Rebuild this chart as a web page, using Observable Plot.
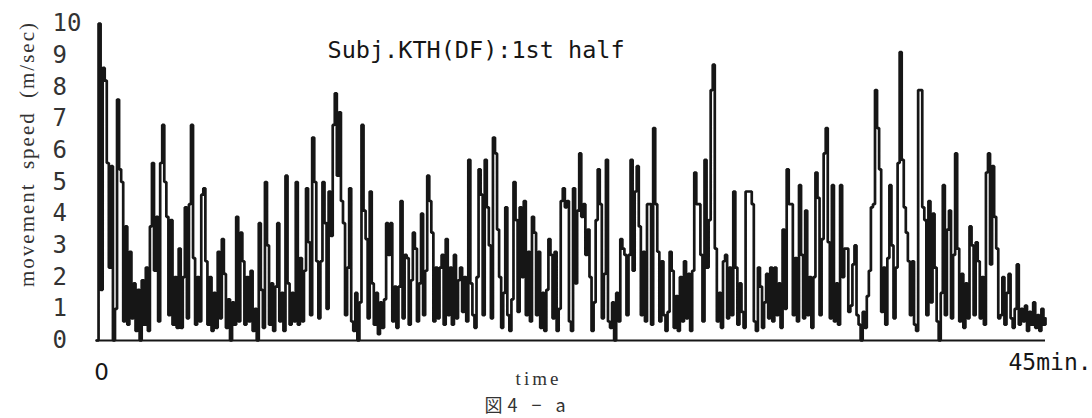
<!DOCTYPE html>
<html><head><meta charset="utf-8">
<script src="https://cdn.jsdelivr.net/npm/d3@7"></script>
<script src="https://cdn.jsdelivr.net/npm/@observablehq/plot@0.6"></script>
<style>body{margin:0;background:#fff}</style>
</head><body><div id="chart"></div>
<script>
// movement speed (m/sec), equally spaced readings over the 45 min half
const speed = [
  0, 10.0, 1.6, 8.6, 8.2, 5.6, 2.3, 5.5, 0, 1.0,
  7.6, 5.4, 5.0, 0.6, 3.6, 0.5, 2.8, 0.7, 1.8, 0.3,
  1.6, 0, 1.9, 0.5, 2.3, 0.3, 3.6, 5.6, 2.2, 3.9,
  0.6, 5.6, 6.8, 5.0, 3.9, 0.8, 3.8, 0.5, 2.0, 0.4,
  2.9, 0.4, 2.0, 4.2, 0.7, 4.3, 6.8, 2.6, 0.5, 2.0,
  0.6, 4.6, 4.8, 2.5, 0.5, 2.0, 0.3, 1.5, 0.4, 2.8,
  0.7, 3.2, 2.1, 0.4, 1.3, 0, 1.2, 0.5, 3.9, 0.6,
  3.4, 2.5, 0.5, 2.0, 0.6, 2.2, 0.3, 1.0, 0, 3.7,
  1.6, 0.4, 5.0, 3.0, 0.5, 1.8, 0.3, 1.7, 3.7, 0.6,
  1.5, 0.3, 5.2, 1.8, 0.5, 1.5, 0.6, 5.0, 0.5, 2.6,
  0.6, 2.2, 4.8, 3.1, 0.8, 6.4, 5.0, 2.5, 0.7, 2.5,
  5.0, 3.7, 1.0, 4.7, 3.3, 6.8, 7.8, 5.2, 7.2, 4.4,
  3.7, 0.8, 2.3, 4.8, 0.6, 0.3, 1.5, 0, 1.2, 6.8,
  4.1, 3.2, 0.7, 4.7, 1.8, 0.5, 1.5, 0.2, 1.2, 0.4,
  1.3, 3.7, 2.7, 3.7, 0.6, 1.7, 0.4, 1.7, 4.4, 0.7,
  2.7, 2.6, 0.5, 1.9, 3.4, 2.9, 0.6, 1.8, 4.0, 0.8,
  2.2, 5.2, 4.4, 3.4, 0.6, 2.3, 0.7, 2.3, 2.7, 0.5,
  3.2, 0.8, 2.3, 0.5, 2.7, 0.7, 1.9, 2.3, 0.9, 2.0,
  0.6, 5.7, 1.8, 0.8, 0.4, 2.0, 5.4, 4.6, 0.8, 5.7,
  4.2, 3.0, 0.7, 6.4, 5.9, 3.5, 2.0, 0.4, 1.5, 4.2,
  0.8, 0.3, 1.3, 5.0, 3.8, 0.9, 4.2, 2.0, 4.4, 0.8,
  2.8, 0.6, 3.9, 3.4, 0.8, 2.8, 0.4, 1.5, 0.3, 1.6,
  3.2, 2.7, 0.7, 2.8, 0.3, 1.0, 4.4, 4.8, 4.2, 4.4,
  0.6, 0.3, 4.8, 1.8, 4.1, 5.9, 3.9, 4.3, 2.7, 3.5,
  2.0, 0.3, 1.2, 3.8, 5.4, 4.3, 0.7, 2.1, 5.7, 0.6,
  0.4, 1.2, 0, 1.5, 0.6, 3.2, 2.9, 2.7, 0.8, 2.7,
  5.7, 2.2, 4.7, 5.5, 3.6, 0.8, 2.8, 0.6, 4.3, 4.3,
  0.5, 6.7, 4.3, 2.8, 0.6, 2.5, 0.8, 0.3, 0.9, 2.8,
  2.2, 0.4, 1.4, 0.3, 2.0, 0.6, 2.5, 0.7, 2.1, 0.3,
  2.2, 5.3, 4.3, 4.3, 2.7, 0.6, 5.7, 2.3, 3.8, 7.9,
  8.7, 2.9, 0.6, 1.5, 0.4, 2.5, 2.7, 0.7, 2.3, 0.8,
  4.7, 2.3, 0.5, 1.8, 0.9, 0.4, 4.7, 4.7, 4.7, 4.3,
  0.6, 0.3, 2.3, 1.7, 0.4, 1.2, 2.1, 0.7, 2.3, 0.6,
  2.3, 0.8, 1.8, 0.4, 3.5, 1.0, 5.4, 4.3, 4.3, 0.8,
  2.6, 0.6, 4.9, 2.7, 0.7, 4.1, 0.8, 2.0, 0.4, 2.0,
  5.3, 4.5, 0.8, 3.2, 5.9, 6.7, 3.1, 0.7, 4.9, 0.6,
  1.8, 0.5, 4.9, 2.0, 2.9, 2.9, 0.9, 1.1, 2.4, 3.0,
  0.8, 0.5, 0, 0.9, 0.4, 1.4, 2.2, 4.2, 4.3, 7.9,
  6.7, 5.4, 0.9, 2.3, 0.5, 2.6, 4.9, 3.0, 0.7, 2.3,
  5.6, 9.1, 5.7, 4.2, 3.4, 2.5, 0.8, 2.5, 0.5, 0.3,
  7.9, 7.9, 4.2, 3.8, 0.8, 4.4, 1.2, 4.0, 2.3, 0.6,
  0, 1.5, 4.9, 0.8, 3.5, 4.1, 0.7, 2.7, 5.9, 2.9,
  0.6, 2.1, 0.4, 1.8, 0.7, 3.6, 3.0, 0.8, 3.1, 2.5,
  0.7, 2.0, 0.5, 5.3, 5.9, 2.4, 5.5, 3.9, 2.9, 0.7,
  0.8, 2.0, 0.5, 1.5, 2.1, 0.7, 0.4, 1.0, 2.4, 0.5,
  1.0, 0.6, 1.1, 0.3, 0.9, 0.5, 1.2, 0.4, 0.8, 0.3,
  1.0, 0.5, 0.7
];
const yTicks = [0, 1, 2, 3, 4, 5, 6, 7, 8, 9, 10];
const xTicks = [0, 45];
const xTickLabels = ["0", "45min."];
const title = "Subj.KTH(DF):1st half";
const yLabel = "movement speed (m/sec)";
const xLabel = "time";
const caption = "図4 − a";

const data = speed.map((v, i) => ({t: i * 45 / (speed.length - 1), v}));
const ink = "#161616";

const chart = Plot.plot({
  width: 1092, height: 418,
  marginLeft: 96, marginRight: 47, marginTop: 23, marginBottom: 78,
  x: {domain: [0, 45]},
  y: {domain: [0, 10]},
  marks: [
    Plot.line(data, {x: "t", y: "v", curve: "step-after", stroke: ink, strokeWidth: 2.7, strokeLinejoin: "miter"}),
    Plot.ruleY([0], {stroke: ink, strokeWidth: 2}),
    Plot.axisY({ticks: yTicks, tickSize: 0, tickPadding: 0, textAnchor: "start", dx: -44,
      fontSize: 24, fontFamily: "DejaVu Sans Mono", fill: "#333", label: null}),
    Plot.axisX({ticks: [xTicks[0]], tickFormat: d => xTickLabels[xTicks.indexOf(d)], tickSize: 0, tickPadding: 23, dx: 5,
      fontSize: 23, fontFamily: "DejaVu Sans", fill: ink, label: null}),
    Plot.axisX({ticks: [xTicks[1]], tickFormat: d => xTickLabels[xTicks.indexOf(d)], tickSize: 0, tickPadding: 13,
      textAnchor: "start", dx: -37, fontSize: 23, fontFamily: "DejaVu Sans Mono", fill: ink, label: null}),
    Plot.text([title], {text: d => d, frameAnchor: "top-left", textAnchor: "start", lineAnchor: "middle",
      dx: 231, dy: 27, fontSize: 23.5, fontFamily: "DejaVu Sans Mono", fill: ink}),
    Plot.text([yLabel], {text: d => d, frameAnchor: "left", textAnchor: "middle", rotate: -90, lineAnchor: "middle",
      dx: -69, dy: -28, fontSize: 21, fontFamily: "Liberation Serif", fill: "#333"}),
    Plot.text([xLabel], {text: d => d, frameAnchor: "bottom-left", textAnchor: "middle", lineAnchor: "middle",
      dx: 442, dy: 38, fontSize: 19, fontFamily: "Liberation Serif", fill: "#333"}),
    Plot.text([caption], {text: d => d, frameAnchor: "bottom-left", textAnchor: "middle", lineAnchor: "middle",
      dx: 431, dy: 66, fontSize: 18, fontFamily: "Noto Sans CJK JP", fill: "#333"})
  ]
});
document.getElementById("chart").append(chart);
d3.select(chart).selectAll("text").filter(function(){ return this.textContent === xLabel; }).attr("letter-spacing", "3px");
d3.select(chart).selectAll("text").filter(function(){ return this.textContent === caption; }).attr("letter-spacing", "5px");
d3.select(chart).selectAll("text").filter(function(){ return this.textContent === yLabel; }).attr("letter-spacing", "2px").attr("word-spacing", "6px");
</script>
</body></html>
